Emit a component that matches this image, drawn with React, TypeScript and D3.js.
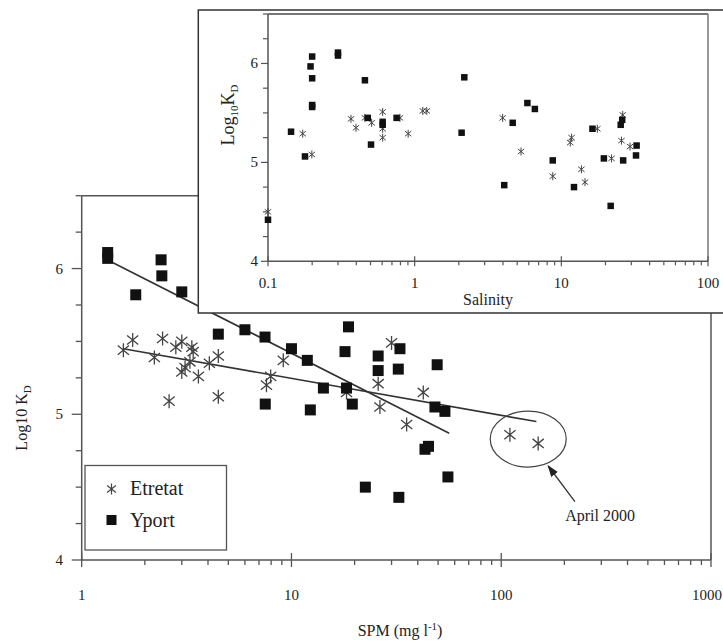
import * as d3 from 'd3';

// SPM (mg/l) vs log10 KD
const etretatSpm: [number, number][] = [
  [1.58, 5.44], [1.75, 5.51], [2.22, 5.39], [2.43, 5.52], [2.61, 5.09], [2.81, 5.46],
  [3.0, 5.5], [3.0, 5.29], [3.11, 5.32], [3.35, 5.46], [3.4, 5.43], [3.28, 5.36],
  [3.6, 5.26], [4.06, 5.35], [4.48, 5.4], [4.48, 5.12], [7.96, 5.26], [7.6, 5.2],
  [9.14, 5.37], [18.3, 5.15], [30.0, 5.49], [25.9, 5.21], [26.4, 5.05], [42.5, 5.15],
  [35.4, 4.93], [110, 4.86], [150, 4.8],
];
const yportSpm: [number, number][] = [
  [1.33, 6.11], [1.33, 6.07], [1.81, 5.82], [2.39, 6.06], [2.41, 5.95], [3.0, 5.84],
  [4.48, 5.55], [6.0, 5.58], [7.48, 5.53], [10.0, 5.45], [11.9, 5.37], [14.2, 5.18],
  [18.3, 5.18], [18.7, 5.6], [18.0, 5.43], [7.5, 5.07], [12.3, 5.03], [19.5, 5.07],
  [32.9, 5.45], [25.9, 5.4], [25.9, 5.3], [32.3, 5.31], [49.5, 5.34], [48.3, 5.05],
  [53.9, 5.02], [43.3, 4.76], [45, 4.78], [55.7, 4.57], [22.5, 4.5], [32.5, 4.43],
];
const etretatFit: [number, number][] = [[1.58, 5.45], [147, 4.95]];
const yportFit: [number, number][] = [[1.41, 6.04], [56.5, 4.87]];

// Salinity vs log10 KD (inset)
const etretatSal: [number, number][] = [
  [0.1725, 5.29], [0.199, 5.08], [0.368, 5.44], [0.398, 5.35], [0.458, 5.45], [0.509, 5.4],
  [0.605, 5.51], [0.605, 5.34], [0.605, 5.25], [0.794, 5.45], [0.903, 5.29], [1.135, 5.52],
  [1.21, 5.52], [3.98, 5.45], [5.31, 5.11], [11.75, 5.25], [11.5, 5.2], [8.74, 4.86],
  [13.7, 4.93], [14.5, 4.8], [17.6, 5.34], [22, 5.04], [26.2, 5.48], [25.7, 5.22],
  [29.4, 5.16], [0.1, 4.5],
];
const yportSal: [number, number][] = [
  [0.2, 6.07], [0.195, 5.97], [0.2, 5.85], [0.2, 5.58], [0.2, 5.56], [0.3, 6.11],
  [0.3, 6.08], [0.458, 5.83], [0.1436, 5.31], [0.1787, 5.06], [0.479, 5.45], [0.504, 5.18],
  [0.605, 5.38], [0.605, 5.41], [0.753, 5.45], [2.09, 5.3], [2.18, 5.86], [5.87, 5.6],
  [6.6, 5.54], [4.66, 5.4], [16.3, 5.34], [8.74, 5.02], [19.5, 5.04], [26.4, 5.02],
  [25.4, 5.38], [26, 5.43], [32.6, 5.17], [32.3, 5.07], [4.08, 4.77], [12.2, 4.75],
  [21.7, 4.56], [0.1, 4.42],
];

const yTickLabels = [4, 5, 6];
const spmTickLabels = ['1', '10', '100', '1000'];
const salTickLabels = ['0.1', '1', '10', '100'];

// annotation (data coords)
const aprilCircle = { x: 134.5, y: 4.83 };
const aprilArrow: [number, number][] = [[224.5, 4.4], [167.5, 4.645]];
const aprilLabel = { x: 296, y: 4.27, text: 'April 2000' };

const FONT = '"Liberation Serif", "DejaVu Serif", serif';
const INK = '#222';
const AXIS = '#555';

function Star({ cx, cy, r, sw }: { cx: number; cy: number; r: number; sw: number }) {
  const a = r * 0.8;
  const b = r * 0.65;
  return (
    <path
      d={`M${cx},${cy - r}L${cx},${cy + r}M${cx - a},${cy - b}L${cx + a},${cy + b}M${cx - a},${cy + b}L${cx + a},${cy - b}`}
      stroke="#444"
      strokeWidth={sw}
      fill="none"
    />
  );
}

export default function App() {
  // main plot
  const x = d3.scaleLog().domain([1, 1000]).range([81.7, 711]);
  const y = d3.scaleLinear().domain([4, 6.5]).range([560, 195.7]);
  // inset
  const ix = d3.scaleLog().domain([0.1, 100]).range([268, 708]);
  const iy = d3.scaleLinear().domain([4, 6.5]).range([261.3, 14]);

  const line = d3.line<[number, number]>().x(d => x(d[0])).y(d => y(d[1]));

  const isMajor = (v: number) => Math.abs(Math.log10(v) - Math.round(Math.log10(v))) < 1e-9;
  const xTicks = x.ticks();
  const ixTicks = ix.ticks();
  const yMinor = d3.range(4, 6.51, 0.25);

  const [x0, x1] = x.range();
  const [y0, y1] = y.range();
  const [ix0, ix1] = ix.range();
  const [iy0, iy1] = iy.range();

  const sq = 11;
  const isq = 6.5;

  return (
    <div style={{ position: 'absolute', left: 0, top: 0 }}>
      <svg width={723} height={641} style={{ display: 'block', fontFamily: FONT }}>
        <defs>
          <marker id="arrowhead" viewBox="0 0 10 10" refX="9" refY="5" markerWidth="9" markerHeight="9" orient="auto">
            <path d="M0,1.5L10,5L0,8.5z" fill="#222" />
          </marker>
        </defs>
        <rect width={723} height={641} fill="#fff" />

        {/* ---------- MAIN PLOT FRAME ---------- */}
        <line x1={x0} x2={x1} y1={y1} y2={y1} stroke={AXIS} strokeWidth={1.5} />
        <line x1={x1} x2={x1} y1={y1} y2={y0} stroke={AXIS} strokeWidth={1.5} />
        <line x1={x0} x2={x0} y1={y1} y2={y0} stroke={AXIS} strokeWidth={1.5} />
        <line x1={x0} x2={x1} y1={y0} y2={y0} stroke={AXIS} strokeWidth={1.5} />

        {/* x ticks */}
        {xTicks.map(t => (
          <line
            key={'xt' + t}
            x1={x(t)}
            x2={x(t)}
            y1={isMajor(t) ? y0 - 7 : y0}
            y2={isMajor(t) ? y0 + 7 : y0 + 5}
            stroke={AXIS}
            strokeWidth={1.3}
          />
        ))}
        {xTicks.filter(isMajor).map((t, i) => (
          <text
            key={'xl' + t}
            x={i === 3 ? 722 : x(t)}
            y={600}
            textAnchor={i === 3 ? 'end' : 'middle'}
            fontSize={15}
            fill={INK}
          >
            {spmTickLabels[i]}
          </text>
        ))}
        {/* y ticks */}
        {yMinor.map(t => (
          <line
            key={'yt' + t}
            x1={x0 - (Number.isInteger(t) ? 10 : 6)}
            x2={x0}
            y1={y(t)}
            y2={y(t)}
            stroke={AXIS}
            strokeWidth={1.3}
          />
        ))}
        {yTickLabels.map(t => (
          <text key={'yl' + t} x={63} y={y(t) + 5} textAnchor="end" fontSize={15} fill={INK}>
            {t}
          </text>
        ))}

        {/* axis titles */}
        <text x={400} y={636} textAnchor="middle" fontSize={16} fill={INK}>
          SPM (mg l<tspan dy={-6} fontSize={11}>-1</tspan>
          <tspan dy={6}>)</tspan>
        </text>
        <text transform="translate(27,418) rotate(-90)" textAnchor="middle" fontSize={16} fill={INK}>
          Log10 K<tspan dy={4} fontSize={11}>D</tspan>
        </text>

        {/* ---------- FIT LINES ---------- */}
        <path d={line(etretatFit) ?? ''} stroke="#333" strokeWidth={1.6} fill="none" />
        <path d={line(yportFit) ?? ''} stroke="#333" strokeWidth={1.6} fill="none" />

        {/* ---------- POINTS ---------- */}
        {etretatSpm.map((d, i) => (
          <Star key={'es' + i} cx={x(d[0])} cy={y(d[1])} r={7} sw={1.3} />
        ))}
        {yportSpm.map((d, i) => (
          <rect key={'ys' + i} x={x(d[0]) - sq / 2} y={y(d[1]) - sq / 2} width={sq} height={sq} fill="#111" />
        ))}

        {/* ---------- APRIL 2000 ANNOTATION ---------- */}
        <ellipse cx={x(aprilCircle.x)} cy={y(aprilCircle.y)} rx={38} ry={28} fill="none" stroke="#444" strokeWidth={1.2} />
        <line
          x1={x(aprilArrow[0][0])}
          y1={y(aprilArrow[0][1])}
          x2={x(aprilArrow[1][0])}
          y2={y(aprilArrow[1][1])}
          stroke="#333"
          strokeWidth={1.3}
          markerEnd="url(#arrowhead)"
        />
        <text x={x(aprilLabel.x)} y={y(aprilLabel.y)} textAnchor="middle" fontSize={16} fill={INK}>
          {aprilLabel.text}
        </text>

        {/* ---------- LEGEND ---------- */}
        <rect x={85} y={465.5} width={141.5} height={84.5} fill="#fff" stroke="#555" strokeWidth={1.3} />
        <Star cx={111.5} cy={489} r={5.5} sw={1.2} />
        <text x={130} y={495} fontSize={20} fill={INK}>Etretat</text>
        <rect x={106.5} y={515} width={10} height={10} fill="#111" />
        <text x={130} y={527} fontSize={20} fill={INK}>Yport</text>

        {/* ---------- INSET ---------- */}
        <rect x={198.3} y={10} width={540} height={303} fill="#fff" stroke="#333" strokeWidth={1.5} />
        <line x1={ix0} x2={ix1} y1={iy1} y2={iy1} stroke="#777" strokeWidth={1.8} />
        <line x1={ix1} x2={ix1} y1={iy1} y2={iy0} stroke="#777" strokeWidth={1.5} />
        <line x1={ix0} x2={ix0} y1={iy1} y2={iy0} stroke={AXIS} strokeWidth={1.5} />
        <line x1={ix0} x2={ix1} y1={iy0} y2={iy0} stroke={AXIS} strokeWidth={1.5} />
        {ixTicks.map(t => (
          <line
            key={'ixt' + t}
            x1={ix(t)}
            x2={ix(t)}
            y1={isMajor(t) ? iy0 - 5 : iy0}
            y2={isMajor(t) ? iy0 + 5 : iy0 + 4}
            stroke={AXIS}
            strokeWidth={1.2}
          />
        ))}
        {ixTicks.filter(isMajor).map((t, i) => (
          <text key={'ixl' + t} x={ix(t)} y={288} textAnchor="middle" fontSize={15} fill={INK}>
            {salTickLabels[i]}
          </text>
        ))}
        {yMinor.map(t => (
          <line
            key={'iyt' + t}
            x1={ix0 - (Number.isInteger(t) ? 7 : 5)}
            x2={ix0}
            y1={iy(t)}
            y2={iy(t)}
            stroke={AXIS}
            strokeWidth={1.2}
          />
        ))}
        {yTickLabels.map(t => (
          <text key={'iyl' + t} x={258} y={iy(t) + 5} textAnchor="end" fontSize={15} fill={INK}>
            {t}
          </text>
        ))}
        <text x={(ix0 + ix1) / 2} y={305} textAnchor="middle" fontSize={16} fill={INK}>
          Salinity
        </text>
        <text transform="translate(234,115) rotate(-90)" textAnchor="middle" fontSize={18} fill={INK}>
          Log<tspan dy={4} fontSize={11}>10</tspan>
          <tspan dy={-4}>K</tspan>
          <tspan dy={4} fontSize={11}>D</tspan>
        </text>

        {etretatSal.map((d, i) => (
          <Star key={'ei' + i} cx={ix(d[0])} cy={iy(d[1])} r={4} sw={1} />
        ))}
        {yportSal.map((d, i) => (
          <rect key={'yi' + i} x={ix(d[0]) - isq / 2} y={iy(d[1]) - isq / 2} width={isq} height={isq} fill="#111" />
        ))}
      </svg>
    </div>
  );
}
